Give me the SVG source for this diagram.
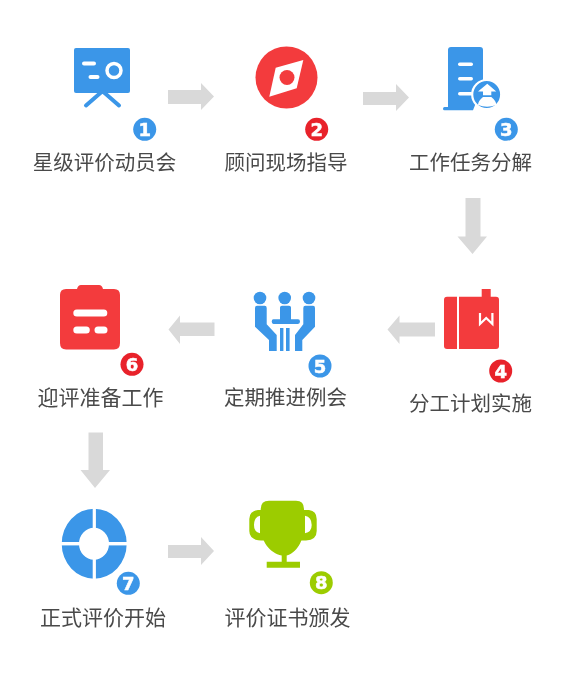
<svg xmlns="http://www.w3.org/2000/svg" width="573" height="681" viewBox="0 0 573 681">
<style>
.lbl{font-family:"Noto Sans CJK SC","Liberation Sans",sans-serif;font-size:20.5px;fill:#4a4a4a;text-anchor:middle}
.big{font-size:21px}
.num{font-family:"DejaVu Sans","Liberation Sans",sans-serif;font-size:18px;font-weight:700;fill:#fff;stroke:#fff;stroke-width:0.5;text-anchor:middle}
.b{fill:#3a96e8}.r{fill:#f33b3d}.g{fill:#9ccc00}.w{fill:#fff}
.bb{fill:#3a96e8}.br{fill:#e8212b}.bg{fill:#9ccc00}
.arr{fill:#d9d9d9}
</style>
<defs><filter id="soft" x="-5%" y="-5%" width="110%" height="110%"><feGaussianBlur stdDeviation="0.45"/></filter></defs>
<rect width="573" height="681" fill="#fff"/>
<g filter="url(#soft)">
<g id="connectors" class="arr">
<path d="M168 90H201V83L214 96.500L201 110V104H168Z"/>
<path d="M363 92H396V84L409 97.500L396 111V105H363Z"/>
<path d="M465.500 198H480.500V236.500H487L472.500 254L457.500 236.500H465.500Z"/>
<path d="M435 322.500H399.500V315.500L387.500 329.500L399.500 344V336.500H435Z"/>
<path d="M214.500 322.500H180V315.500L168.500 329.500L180 344V336H214.500Z"/>
<path d="M88.500 432.500H103V470H110L95 488L80.500 470H88.500Z"/>
<path d="M168 545H201V537L214 551L201 565V558H168Z"/>
</g>
<g id="node1">
<rect class="b" x="74" y="48" width="56" height="45" rx="2"/>
<path d="M101.500 92L86 105.500M103.500 92L119 105.500" stroke="#3a96e8" stroke-width="4" stroke-linecap="round" fill="none"/>
<rect class="w" x="82" y="61.500" width="14" height="4" rx="2"/>
<rect class="w" x="88.500" y="75" width="11" height="4" rx="2"/>
<circle cx="114" cy="70.500" r="7" fill="none" stroke="#fff" stroke-width="3.500"/>
<circle class="bb" cx="144.700" cy="129.300" r="11.500"/><text class="num" x="144.700" y="135.800">1</text>
<text class="lbl" x="104.500" y="169.500">星级评价动员会</text>
</g>
<g id="node2">
<circle class="r" cx="286.500" cy="77.500" r="31"/>
<path class="w" d="M303.300 60L275.700 67.700L269.300 96.700L296.700 88.300Z"/>
<circle class="r" cx="287" cy="77.500" r="7.500"/>
<circle class="br" cx="316.700" cy="129.300" r="11.500"/><text class="num" x="316.700" y="135.800">2</text>
<text class="lbl" x="286" y="169.500">顾问现场指导</text>
</g>
<g id="node3">
<path class="b" d="M448 107V50Q448 47 451 47H480Q483 47 483 50V85L473 110.300H444.500Q443 110.300 443 108.700T444.500 107Z"/>
<rect class="w" x="458" y="62.500" width="15" height="3.500" rx="1.700"/>
<rect class="w" x="458" y="77" width="15" height="3.500" rx="1.700"/>
<rect class="w" x="458" y="92" width="15" height="3.500" rx="1.700"/>
<circle class="b" cx="486.700" cy="94.500" r="14.500" stroke="#fff" stroke-width="2.200"/>
<path class="w" d="M487.300 83.700L496.300 91.500H491.300V95.300H483V91.500H478Z"/>
<path class="w" d="M483 97H491.300Q496.300 101 496.300 105Q487 108.500 478 105Q478 101 483 97Z"/>
<circle class="bb" cx="506.300" cy="129.300" r="11.500"/><text class="num" x="506.300" y="135.800">3</text>
<text class="lbl" x="470.500" y="169.500">工作任务分解</text>
</g>
<g id="node4">
<rect class="r" x="444" y="296.700" width="55" height="52.300" rx="3"/>
<rect class="w" x="457" y="296" width="2" height="54"/>
<path class="r" d="M481.700 289H490.700V322L486.200 317.500L481.700 322Z"/>
<path d="M480 313V324L486.200 318L492.400 324V313" fill="none" stroke="#fff" stroke-width="2.200"/>
<circle class="br" cx="500.700" cy="371" r="11.500"/><text class="num" x="500.700" y="377.500">4</text>
<text class="lbl" x="470.500" y="411">分工计划实施</text>
</g>
<g id="node5">
<circle class="b" cx="260" cy="298" r="6.300"/><circle class="b" cx="284.700" cy="298" r="6.300"/><circle class="b" cx="309" cy="298" r="6.300"/>
<path class="b" d="M280 319.300V307.500Q280 305.700 282 305.700H289Q291 305.700 291 307.500V319.300H298Q300 319.300 300 321.600T298 324H273.500Q271.700 324 271.700 321.600T273.500 319.300Z"/>
<rect class="b" x="280" y="328" width="3.400" height="23"/><rect class="b" x="286" y="328" width="3.600" height="23"/>
<path class="b" d="M255 308Q255 305.700 257 305.700H264.700Q266.700 305.700 266.700 308V324.300L276.700 335V351H269V340L255 326.700Z"/>
<path class="b" d="M315 308Q315 305.700 313 305.700H305.300Q303.300 305.700 303.300 308V324.300L295 335V351H302.300V340L315 326.700Z"/>
<circle class="bb" cx="320" cy="366" r="11.500"/><text class="num" x="320" y="372.500">5</text>
<text class="lbl" x="285.500" y="404.500">定期推进例会</text>
</g>
<g id="node6">
<path class="r" d="M66 289H77Q78 285 81 285H99Q102 285 103 289H114Q120 289 120 295V343Q120 349.500 114 349.500H66Q60 349.500 60 343V295Q60 289 66 289Z"/>
<rect class="w" x="73.300" y="309.500" width="34" height="7" rx="3.500"/>
<rect class="w" x="73.300" y="326.500" width="16.500" height="7" rx="3.500"/>
<rect class="w" x="94.500" y="326.500" width="13" height="7" rx="3.500"/>
<circle class="br" cx="132" cy="364.300" r="11.500"/><text class="num" x="132" y="370.800">6</text>
<text class="lbl big" x="100.500" y="405">迎评准备工作</text>
</g>
<g id="node7">
<path class="b" fill-rule="evenodd" d="M61.700 543.700A32.500 35 0 1 1 126.700 543.700A32.500 35 0 1 1 61.700 543.700ZM79 543.700A15 16 0 1 0 109 543.700A15 16 0 1 0 79 543.700Z"/>
<rect class="w" x="60" y="542" width="68" height="3.400"/>
<rect class="w" x="92.700" y="507" width="3.200" height="73"/>
<circle class="bb" cx="128.300" cy="583.300" r="11.500"/><text class="num" x="128.300" y="589.800">7</text>
<text class="lbl big" x="103" y="625">正式评价开始</text>
</g>
<g id="node8">
<path class="g" fill-rule="evenodd" d="M258 510H309Q316.700 511 316.700 519V531Q316.700 540 306 540.500H261Q249.300 540 249.300 531V519Q249.300 511 258 510ZM260 515.700Q254 517 254 525Q254 532 260 533.300ZM305 515.700V533.300Q311.700 532 311.700 525Q311.700 517 305 515.700Z"/>
<path class="g" d="M269 500.700H296Q304 500.700 304 509V525C304 542 296 553 286.700 555.500V561.700H300V567.700H266.700V561.700H281.700V555.500C270 553 260.700 542 260.700 525V509Q260.700 500.700 269 500.700Z"/>
<circle class="bg" cx="321.300" cy="582.700" r="11.500"/><text class="num" x="321.300" y="589.200">8</text>
<text class="lbl big" x="287.500" y="625">评价证书颁发</text>
</g>
</g>
</svg>
